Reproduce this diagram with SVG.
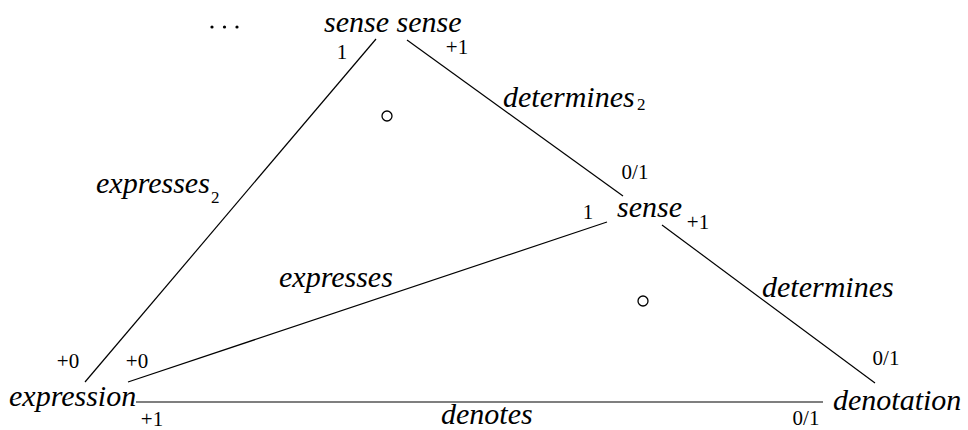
<svg xmlns="http://www.w3.org/2000/svg" width="968" height="430" viewBox="0 0 968 430" font-family="'Liberation Serif', Tinos, 'Noto Serif', 'Nimbus Roman', 'FreeSerif', Times, 'DejaVu Serif', serif">
<style>
.node{font-style:italic;font-size:30px;fill:#000}
.lbl{font-style:italic;font-size:30px;fill:#000}
.sub{font-size:17px;fill:#000}
.num{font-size:21px;fill:#000;text-anchor:middle}
.edge{stroke:#000;stroke-width:1.2;fill:none}
.circ{stroke:#000;stroke-width:1.3;fill:none}
</style>
<rect width="968" height="430" fill="#fff"/>
<g id="connectors">
<line class="edge" x1="85" y1="382" x2="376" y2="39"/>
<line class="edge" x1="407" y1="40" x2="623" y2="196"/>
<line class="edge" x1="128" y1="382" x2="607" y2="222"/>
<line class="edge" x1="662" y1="225" x2="875" y2="383"/>
<line class="edge" x1="136" y1="402" x2="823" y2="402" stroke="#333" stroke-width="1.4"/>
<text class="lbl" x="96" y="193">expresses</text><text class="sub" x="211" y="203">2</text>
<text class="lbl" x="503" y="107">determines</text><text class="sub" x="637" y="110">2</text>
<text class="lbl" x="279" y="287">expresses</text>
<text class="lbl" x="762" y="297">determines</text>
<text class="lbl" x="441" y="424">denotes</text>
<text class="num" x="342" y="59">1</text>
<text class="num" x="457" y="54">+1</text>
<text class="num" x="635" y="179">0/1</text>
<text class="num" x="588" y="219">1</text>
<text class="num" x="698" y="229">+1</text>
<text class="num" x="68" y="368">+0</text>
<text class="num" x="137" y="368">+0</text>
<text class="num" x="152" y="426">+1</text>
<text class="num" x="886" y="365">0/1</text>
<text class="num" x="806" y="425">0/1</text>
</g>
<g id="circle1"><circle class="circ" cx="387" cy="116" r="5"/></g>
<g id="circle2"><circle class="circ" cx="643" cy="301" r="5"/></g>
<g id="dots"><circle cx="212" cy="27" r="1.6"/><circle cx="224.5" cy="27" r="1.6"/><circle cx="237" cy="27" r="1.6"/></g>
<g id="sense-sense"><text class="node" x="324" y="32">sense sense</text></g>
<g id="sense"><text class="node" x="617" y="217">sense</text></g>
<g id="expression"><text class="node" x="9" y="406">expression</text></g>
<g id="denotation"><text class="node" x="833" y="410">denotation</text></g>
</svg>
